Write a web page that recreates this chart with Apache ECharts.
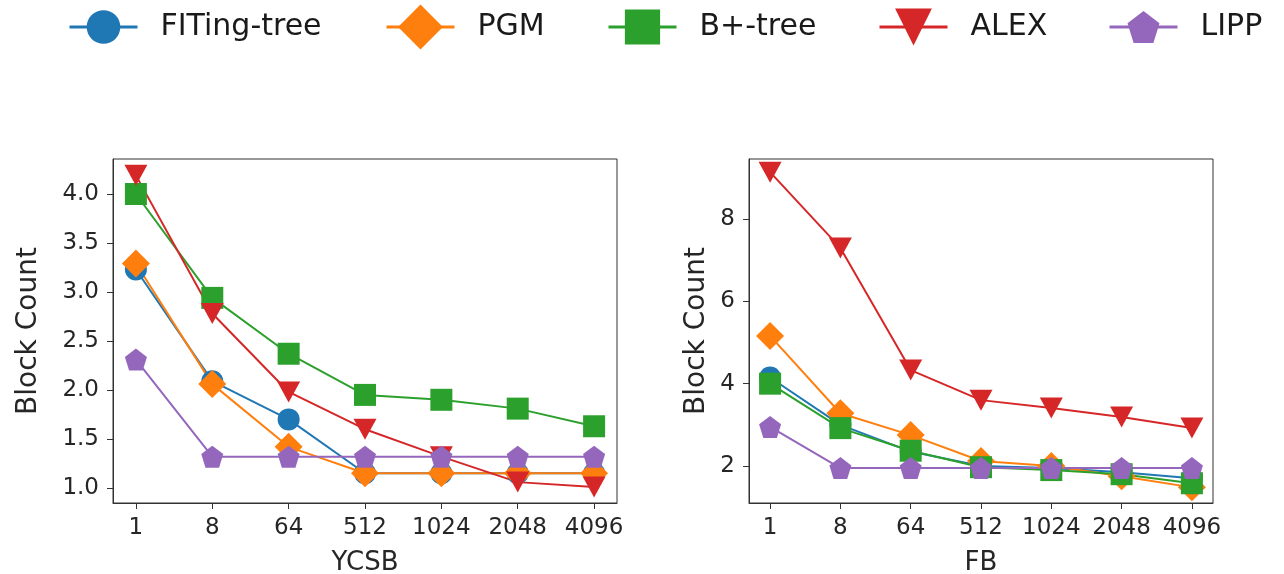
<!DOCTYPE html>
<html>
<head>
<meta charset="utf-8">
<script src="https://cdn.jsdelivr.net/npm/echarts@6/dist/echarts.min.js"></script>
<style>
  html, body { margin: 0; padding: 0; background: #fff; }
  #container { width: 1284px; height: 574px; }
</style>
</head>
<body>
<div id="container"></div>
<script>
  // x categories, shared by both panels
  const categories = ['1', '8', '64', '512', '1024', '2048', '4096']
  const seriesNames = ['FITing-tree', 'PGM', 'B+-tree', 'ALEX', 'LIPP']

  // YCSB panel
  const ycsbFiting = [3.23, 2.09, 1.70, 1.15, 1.15, 1.15, 1.15]
  const ycsbPgm = [3.29, 2.06, 1.42, 1.15, 1.15, 1.15, 1.15]
  const ycsbBtree = [4.00, 2.94, 2.37, 1.95, 1.90, 1.81, 1.63]
  const ycsbAlex = [4.19, 2.78, 1.98, 1.60, 1.32, 1.06, 1.01]
  const ycsbLipp = [2.31, 1.32, 1.32, 1.32, 1.32, 1.32, 1.32]
  const ycsbTicks = [1.0, 1.5, 2.0, 2.5, 3.0, 3.5, 4.0]

  // FB panel
  const fbFiting = [4.15, 3.00, 2.35, 2.00, 1.95, 1.85, 1.70]
  const fbPgm = [5.16, 3.28, 2.75, 2.12, 2.00, 1.75, 1.48]
  const fbBtree = [4.00, 2.92, 2.37, 1.97, 1.90, 1.80, 1.58]
  const fbAlex = [9.14, 7.30, 4.33, 3.60, 3.41, 3.19, 2.92]
  const fbLipp = [2.95, 1.95, 1.95, 1.95, 1.95, 1.95, 1.95]
  const fbTicks = [2, 4, 6, 8]

  const colors = ['#1f77b4', '#ff7f0e', '#2ca02c', '#d62728', '#9467bd']
  const pentagon = 'path://M0,-1 L0.951,-0.309 L0.588,0.809 L-0.588,0.809 L-0.951,-0.309 Z'
  const symbols = [
    { symbol: 'circle', size: 22, rotate: 0, legendH: 42, legendLeft: 68 },
    { symbol: 'diamond', size: 28, rotate: 0, legendH: 56, legendLeft: 385 },
    { symbol: 'rect', size: 22, rotate: 0, legendH: 44, legendLeft: 607 },
    { symbol: 'triangle', size: [23, 21], rotate: 180, legendH: 46, legendLeft: 878 },
    { symbol: pentagon, size: 22, rotate: 0, legendH: 40, legendLeft: 1108 }
  ]

  const tickIdx = categories.map((c, i) => i)
  const font = 'DejaVu Sans'
  const ink = '#262626'

  function xAxisFor(gridIndex, name) {
    return {
      type: 'value', gridIndex: gridIndex, min: -0.3, max: 6.3,
      name: name, nameLocation: 'middle', nameGap: 47,
      nameTextStyle: { fontFamily: font, fontSize: 26, color: ink },
      axisLine: { show: true, onZero: false, lineStyle: { color: '#333', width: 1 } },
      axisTick: { show: true, length: 6, customValues: tickIdx, lineStyle: { color: '#333' } },
      axisLabel: {
        customValues: tickIdx, margin: 14, fontFamily: font, fontSize: 23, color: ink,
        formatter: v => categories[Math.round(v)]
      },
      splitLine: { show: false }
    }
  }

  function yAxisFor(gridIndex, min, max, ticks, digits, gap) {
    return {
      type: 'value', gridIndex: gridIndex, min: min, max: max,
      name: 'Block Count', nameLocation: 'middle', nameGap: gap, nameRotate: 90,
      nameTextStyle: { fontFamily: font, fontSize: 28, color: ink },
      axisLine: { show: true, onZero: false, lineStyle: { color: '#333', width: 1 } },
      axisTick: { show: true, length: 6, customValues: ticks, lineStyle: { color: '#333' } },
      axisLabel: {
        customValues: ticks, margin: 14, fontFamily: font, fontSize: 23, color: ink,
        formatter: v => v.toFixed(digits)
      },
      splitLine: { show: false }
    }
  }

  function makeSeries(values, i, axisIndex) {
    return {
      name: seriesNames[i], type: 'line',
      xAxisIndex: axisIndex, yAxisIndex: axisIndex,
      data: values.map((v, k) => [k, v]),
      symbol: symbols[i].symbol, symbolSize: symbols[i].size, symbolRotate: symbols[i].rotate,
      showAllSymbol: true,
      lineStyle: { color: colors[i], width: 2 },
      itemStyle: { color: colors[i], borderWidth: 0 },
      emphasis: { disabled: true },
      animation: false
    }
  }

  // one legend per series so each marker can have its own size, as in the figure;
  // text is given a line height equal to the item height so it sits on the icon centre
  const legends = seriesNames.map((name, i) => ({
    data: [name], left: symbols[i].legendLeft, top: 27 - symbols[i].legendH / 2,
    padding: 0, itemWidth: 68, itemHeight: symbols[i].legendH,
    lineStyle: { width: 3 },
    selectedMode: false,
    textStyle: {
      fontFamily: font, fontSize: 30, color: '#1a1a1a',
      lineHeight: symbols[i].legendH, padding: [0, 0, 0, 18]
    }
  }))

  const ycsb = [ycsbFiting, ycsbPgm, ycsbBtree, ycsbAlex, ycsbLipp]
  const fb = [fbFiting, fbPgm, fbBtree, fbAlex, fbLipp]

  const myChart = echarts.init(document.getElementById('container'))
  myChart.setOption({
    backgroundColor: '#fff',
    color: colors,
    animation: false,
    legend: legends,
    grid: [
      { left: 113, right: 667, top: 159, bottom: 71, outerBoundsMode: 'none', show: true, borderColor: '#333', borderWidth: 1 },
      { left: 749, right: 71, top: 159, bottom: 71, outerBoundsMode: 'none', show: true, borderColor: '#333', borderWidth: 1 }
    ],
    xAxis: [xAxisFor(0, 'YCSB'), xAxisFor(1, 'FB')],
    yAxis: [
      yAxisFor(0, 0.847, 4.357, ycsbTicks, 1, 70),
      yAxisFor(1, 1.10, 9.46, fbTicks, 0, 38)
    ],
    series: ycsb.map((v, i) => makeSeries(v, i, 0)).concat(fb.map((v, i) => makeSeries(v, i, 1)))
  })
</script>
</body>
</html>
